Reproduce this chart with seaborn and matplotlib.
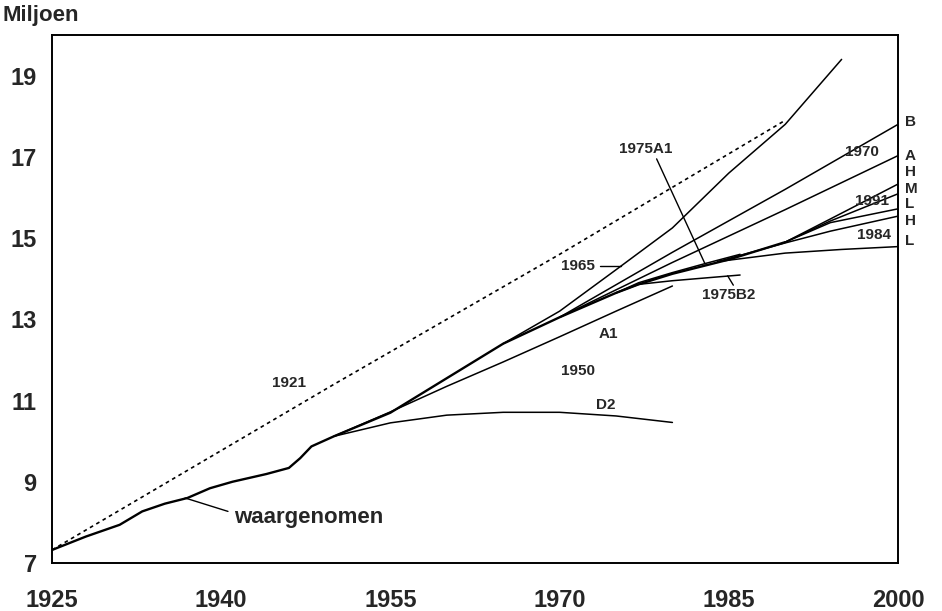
import numpy as np
import pandas as pd
import seaborn as sns
from matplotlib import pyplot as plt

sns.set_style('white')
plt.rcParams['font.family'] = ['Liberation Sans', 'DejaVu Sans']
plt.rcParams['font.weight'] = 'bold'

# waargenomen bevolking (miljoen)
obs_years = [1925, 1928, 1931, 1933, 1935, 1937, 1939, 1941, 1944, 1946, 1947, 1948,
             1950, 1955, 1960, 1965, 1970, 1975, 1977, 1980, 1985, 1990]
obs_vals = [7.32, 7.65, 7.94, 8.27, 8.46, 8.60, 8.84, 9.00, 9.19, 9.34, 9.58, 9.87,
            10.12, 10.70, 11.55, 12.40, 13.05, 13.65, 13.86, 14.12, 14.47, 14.90]

# prognoses
p1921_years = [1925, 1950, 1970, 1990]
p1921_vals = [7.32, 11.4, 14.6, 17.9]

p1950a1_years = [1950, 1955, 1960, 1965, 1970, 1975, 1980]
p1950a1_vals = [10.12, 10.72, 11.35, 11.95, 12.57, 13.20, 13.82]
p1950d2_years = [1950, 1955, 1960, 1965, 1970, 1975, 1980]
p1950d2_vals = [10.12, 10.45, 10.64, 10.71, 10.71, 10.62, 10.46]

p1965_years = [1965, 1970, 1975, 1980, 1985, 1990, 1995]
p1965_vals = [12.40, 13.20, 14.22, 15.25, 16.60, 17.80, 19.40]

p1970b_years = [1970, 1980, 1990, 2000]
p1970b_vals = [13.05, 14.65, 16.20, 17.80]
p1970a_years = [1970, 1980, 1990, 2000]
p1970a_vals = [13.05, 14.40, 15.70, 17.03]

p1975a1_years = [1975, 1977, 1980, 1983, 1986]
p1975a1_vals = [13.65, 13.90, 14.15, 14.38, 14.60]
p1975b2_years = [1975, 1977, 1980, 1986]
p1975b2_vals = [13.65, 13.86, 13.95, 14.09]

p1984h_years = [1984, 1990, 1994, 2000]
p1984h_vals = [14.42, 14.88, 15.17, 15.54]
p1984l_years = [1984, 1990, 1995, 2000]
p1984l_vals = [14.42, 14.63, 14.72, 14.79]

p1991h_years = [1990, 1994, 2000]
p1991h_vals = [14.90, 15.47, 16.33]
p1991m_years = [1990, 1994, 2000]
p1991m_vals = [14.90, 15.42, 16.09]
p1991l_years = [1990, 1994, 2000]
p1991l_vals = [14.90, 15.38, 15.72]

x_ticks = [1925, 1940, 1955, 1970, 1985, 2000]
y_ticks = [7, 9, 11, 13, 15, 17, 19]
right_labels = ['B', 'A', 'H', 'M', 'L', 'H', 'L']
right_label_y = [17.86, 17.02, 16.63, 16.21, 15.84, 15.42, 14.93]

projections = [
    (p1950a1_years, p1950a1_vals), (p1950d2_years, p1950d2_vals),
    (p1965_years, p1965_vals),
    (p1970b_years, p1970b_vals), (p1970a_years, p1970a_vals),
    (p1975a1_years, p1975a1_vals), (p1975b2_years, p1975b2_vals),
    (p1984h_years, p1984h_vals), (p1984l_years, p1984l_vals),
    (p1991h_years, p1991h_vals), (p1991m_years, p1991m_vals), (p1991l_years, p1991l_vals),
]

fig = plt.figure(figsize=(9.42, 6.11), dpi=100)
ax = fig.add_axes([0.0552, 0.0786, 0.8981, 0.8641])

for years, vals in projections:
    sns.lineplot(x=years, y=vals, color='black', linewidth=1.1, sort=False,
                 estimator=None, ax=ax)

sns.lineplot(x=p1921_years, y=p1921_vals, color='black', linewidth=1.2, sort=False,
             estimator=None, linestyle=(0, (2.2, 2.2)), ax=ax)
sns.lineplot(x=obs_years, y=obs_vals, color='black', linewidth=1.7, sort=False,
             estimator=None, ax=ax)

ax.set_xlim(1925, 2000)
ax.set_ylim(7, 20)
ax.set_xticks(x_ticks)
ax.set_yticks(y_ticks)
ax.set_xlabel('')
ax.set_ylabel('')
ax.tick_params(axis='both', direction='out', length=6, width=1.2, color='black',
               labelsize=17)
ax.tick_params(axis='x', pad=13)
ax.tick_params(axis='y', pad=5)
for lab in ax.get_xticklabels() + ax.get_yticklabels():
    lab.set_fontweight('bold')
for sp in ax.spines.values():
    sp.set_color('black')
    sp.set_linewidth(1.4)

fig.text(0.003, 0.992, 'Miljoen', fontsize=16, fontweight='bold', va='top', ha='left')

small = dict(fontsize=11, fontweight='bold', ha='center', va='center')
ax.text(1977.6, 17.2, '1975A1', **small)
ax.plot([1978.6, 1982.9], [16.95, 14.36], color='black', linewidth=1.0)
ax.text(1996.8, 17.12, '1970', **small)
ax.text(1971.6, 14.31, '1965', **small)
ax.plot([1973.6, 1975.4], [14.32, 14.32], color='black', linewidth=1.0)
ax.text(1985.0, 13.6, '1975B2', **small)
ax.plot([1984.9, 1985.4], [14.07, 13.84], color='black', linewidth=1.0)
ax.text(1974.3, 12.63, 'A1', **small)
ax.text(1971.6, 11.72, '1950', **small)
ax.text(1974.1, 10.88, 'D2', **small)
ax.text(1946.0, 11.42, '1921', **small)
ax.text(1997.7, 15.91, '1991', **small)
ax.text(1997.9, 15.07, '1984', **small)

ax.text(1947.8, 8.11, 'waargenomen', fontsize=16, fontweight='bold', ha='center', va='center')
ax.plot([1936.8, 1940.6], [8.60, 8.27], color='black', linewidth=1.0)

for lab, yv in zip(right_labels, right_label_y):
    ax.text(2000.6, yv, lab, fontsize=11, fontweight='bold', ha='left', va='center',
            clip_on=False)

plt.savefig('out.png', dpi=100)
plt.close()
